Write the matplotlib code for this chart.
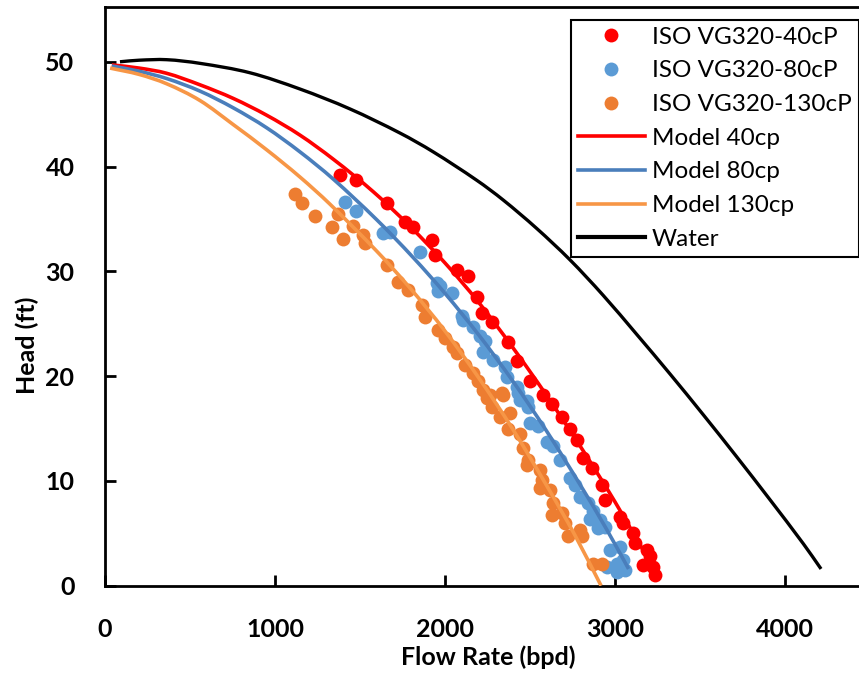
import matplotlib
matplotlib.use("Agg")
import matplotlib.pyplot as plt
from matplotlib.lines import Line2D
from matplotlib.path import Path
from matplotlib.patches import PathPatch

plt.rcParams['font.family'] = ['Lato', 'DejaVu Sans']

# Measured pump performance: flow rate (bpd) and head (ft)
q_40 = [1382, 1476, 1661, 1765, 1814, 1922, 1941, 2069, 2137, 2186, 2216, 2275,
        2373, 2422, 2500, 2578, 2627, 2686, 2735, 2775, 2814, 2863, 2922, 2941,
        3029, 3049, 3108, 3118, 3167, 3186, 3206, 3225, 3235]
h_40 = [39.2, 38.7, 36.5, 34.7, 34.2, 33.0, 31.6, 30.1, 29.6, 27.6, 26.0, 25.2,
        23.3, 21.4, 19.5, 18.2, 17.3, 16.1, 15.0, 13.9, 12.2, 11.2, 9.6, 8.2,
        6.6, 5.95, 5.0, 4.05, 2.0, 3.4, 2.8, 1.8, 1.0]

q_80 = [1412, 1476, 1637, 1676, 1853, 1951, 1971, 1961, 2039, 2098, 2108, 2167,
        2206, 2235, 2225, 2284, 2353, 2363, 2422, 2431, 2441, 2480, 2490, 2500,
        2549, 2598, 2637, 2676, 2735, 2765, 2794, 2843, 2873, 2853, 2912, 2902,
        2941, 2971, 3029, 2951, 3010, 3049, 3010, 3059]
h_80 = [36.6, 35.8, 33.7, 33.8, 31.8, 28.9, 28.6, 28.1, 27.9, 25.7, 25.4, 24.7,
        23.8, 23.4, 22.3, 21.5, 20.9, 19.9, 19.0, 18.4, 17.7, 17.6, 17.1, 15.5,
        15.2, 13.7, 13.3, 12.0, 10.25, 9.6, 8.5, 7.9, 7.1, 6.4, 6.3, 5.5,
        5.6, 3.4, 3.7, 1.8, 2.1, 2.45, 1.35, 1.5]

q_130 = [1118, 1157, 1235, 1373, 1333, 1461, 1402, 1520, 1529, 1657, 1725, 1784,
         1863, 1882, 1961, 2000, 2049, 2069, 2118, 2167, 2196, 2225, 2245, 2333,
         2275, 2265, 2343, 2324, 2382, 2373, 2441, 2461, 2490, 2480, 2559, 2569,
         2559, 2618, 2637, 2627, 2686, 2706, 2725, 2794, 2804, 2873, 2922]
h_130 = [37.4, 36.5, 35.3, 35.5, 34.2, 34.3, 33.1, 33.5, 32.7, 30.6, 29.0, 28.2,
         26.8, 25.6, 24.4, 23.6, 22.8, 22.2, 21.1, 20.3, 19.5, 18.7, 17.9, 18.4,
         17.1, 18.2, 18.2, 16.1, 16.45, 15.0, 14.5, 13.1, 12.0, 11.5, 11.0, 10.1,
         9.3, 9.1, 7.9, 6.7, 6.9, 5.95, 4.7, 5.3, 4.7, 2.1, 2.1]

# Model predictions
mq_40 = [40, 200, 363, 559, 755, 951, 1147, 1343, 1578, 1800, 2000, 2200,
         2400, 2600, 2800, 3000, 3250]
mh_40 = [49.7, 49.4, 48.9, 47.8, 46.5, 44.9, 43.0, 40.7, 37.6, 34.2, 30.8, 27.0,
         22.7, 18.1, 13.2, 8.0, 1.0]

mq_80 = [40, 200, 363, 559, 755, 951, 1147, 1343, 1600, 1814, 2000, 2200,
         2400, 2600, 2800, 2950, 3080]
mh_80 = [49.6, 49.1, 48.4, 47.2, 45.6, 43.7, 41.4, 38.8, 34.9, 31.3, 27.9, 23.9,
         19.5, 14.7, 9.5, 5.4, 1.6]

mq_130 = [30, 200, 363, 559, 755, 951, 1147, 1324, 1600, 1800, 2000, 2200,
          2400, 2600, 2765, 2918]
mh_130 = [49.4, 48.8, 47.9, 46.3, 44.0, 41.6, 39.0, 36.4, 31.9, 28.3, 24.3, 19.8,
          14.9, 9.5, 4.8, 0.0]

# Water performance curve
wq = [88, 200, 363, 559, 853, 1147, 1441, 1735, 1931, 2186, 2343, 2539, 2735,
      2931, 3127, 3324, 3520, 3716, 3912, 4108, 4212]
wh = [50.0, 50.15, 50.2, 49.85, 48.95, 47.4, 45.5, 43.2, 41.4, 38.7, 36.8, 34.1,
      31.1, 27.7, 24.0, 20.2, 16.3, 12.3, 8.2, 4.0, 1.6]

xticks = [0, 1000, 2000, 3000, 4000]
yticks = [0, 10, 20, 30, 40, 50]

c_red = '#FF0000'
c_blue_pts = '#5B9BD5'
c_orange_pts = '#ED7D31'
c_blue_line = '#4A7EBB'
c_orange_line = '#F79646'


def smooth_path(xs, ys):
    """Smoothed curve through the points: cubic Hermite segments as Beziers."""
    n = len(xs)
    slopes = []
    for i in range(n):
        a = max(i - 1, 0)
        b = min(i + 1, n - 1)
        slopes.append((ys[b] - ys[a]) / (xs[b] - xs[a]))
    verts = [(xs[0], ys[0])]
    codes = [Path.MOVETO]
    for i in range(n - 1):
        h = xs[i + 1] - xs[i]
        verts += [(xs[i] + h / 3, ys[i] + slopes[i] * h / 3),
                  (xs[i + 1] - h / 3, ys[i + 1] - slopes[i + 1] * h / 3),
                  (xs[i + 1], ys[i + 1])]
        codes += [Path.CURVE4] * 3
    return Path(verts, codes)


W, H = 859, 675
fig = plt.figure(figsize=(W / 100, H / 100), dpi=100)
left, right, bottom, top = 105, 859, 585.7, 7.3
ax = fig.add_axes([left / W, 1 - bottom / H, (right - left) / W, (bottom - top) / H])

ms = 100
ax.scatter(q_40, h_40, s=ms, color=c_red, linewidths=0, zorder=2)
ax.scatter(q_80, h_80, s=ms, color=c_blue_pts, linewidths=0, zorder=2)
ax.scatter(q_130, h_130, s=ms, color=c_orange_pts, linewidths=0, zorder=2)

lw = 2.6
for xs, ys, col, w in [(mq_40, mh_40, c_red, lw),
                       (mq_80, mh_80, c_blue_line, lw),
                       (mq_130, mh_130, c_orange_line, lw),
                       (wq, wh, 'black', 2.4)]:
    ax.add_patch(PathPatch(smooth_path(xs, ys), fill=False, edgecolor=col,
                           lw=w, zorder=3, capstyle='butt', joinstyle='round'))

ax.set_xlim(0, (right - left) / 0.170)
ax.set_ylim(0, 55.2)
ax.set_xticks(xticks)
ax.set_yticks(yticks)
ax.tick_params(direction='in', length=8, width=2, labelsize=18)
ax.tick_params(axis='x', pad=23)
ax.tick_params(axis='y', pad=22)
for lab in ax.get_xticklabels() + ax.get_yticklabels():
    lab.set_fontweight('bold')

for s in ['left', 'bottom', 'top']:
    ax.spines[s].set_linewidth(2)
ax.spines['right'].set_visible(False)

ax.set_xlabel('Flow Rate (bpd)', fontsize=18, fontweight='bold', va='center')
ax.set_ylabel('Head (ft)', fontsize=18, fontweight='bold', va='center')
ax.xaxis.set_label_coords(0.508, -0.123)
ax.yaxis.set_label_coords(-0.103, 0.416)

handles = [
    Line2D([], [], ls='none', marker='o', ms=10, color=c_red, markeredgewidth=0),
    Line2D([], [], ls='none', marker='o', ms=10, color=c_blue_pts, markeredgewidth=0),
    Line2D([], [], ls='none', marker='o', ms=10, color=c_orange_pts, markeredgewidth=0),
    Line2D([], [], color=c_red, lw=lw),
    Line2D([], [], color=c_blue_line, lw=lw),
    Line2D([], [], color=c_orange_line, lw=lw),
    Line2D([], [], color='black', lw=3),
]
labels = ['ISO VG320-40cP', 'ISO VG320-80cP', 'ISO VG320-130cP',
          'Model 40cp', 'Model 80cp', 'Model 130cp', 'Water']
leg = fig.legend(handles, labels, loc='upper right',
                 bbox_to_anchor=(858.5 / W, 1 - 20 / H), borderaxespad=0,
                 fontsize=17.5, handlelength=2.75, handletextpad=0.3,
                 labelspacing=0.52, borderpad=0.28, fancybox=False,
                 edgecolor='black', framealpha=1)
leg.get_frame().set_linewidth(1.5)

fig.savefig('out.png', dpi=100)
